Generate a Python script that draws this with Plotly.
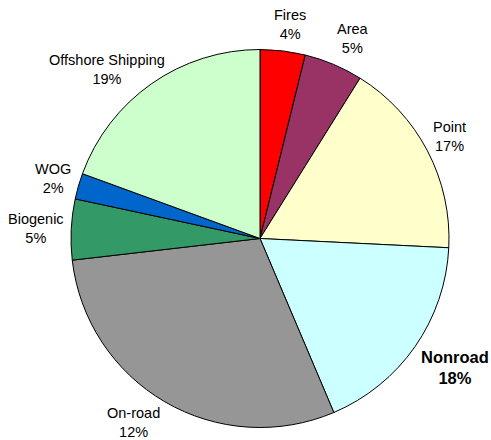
import plotly.graph_objects as go

categories = ["Fires", "Area", "Point", "Nonroad", "On-road", "Biogenic", "WOG", "Offshore Shipping"]
values = [3.85, 5.03, 16.9, 17.83, 29.56, 5.19, 2.21, 19.43]
pct_labels = ["4%", "5%", "17%", "18%", "12%", "5%", "2%", "19%"]
colors = ["#FF0000", "#993366", "#FFFFCC", "#CCFFFF", "#969696", "#339966", "#0066CC", "#CCFFCC"]

W, H = 491, 440
cx, cy, r = 260, 238.5, 189

# label centre positions (pixels) – layout only
label_pos = [(290, 24), (353, 38.5), (449, 136), (455, 367), (133, 422), (36, 228), (53, 179), (107, 69)]
bold = [False, False, False, True, False, False, False, False]

fig = go.Figure(go.Pie(
    labels=categories,
    values=values,
    sort=False,
    direction="clockwise",
    rotation=0,
    marker=dict(colors=colors, line=dict(color="black", width=1)),
    textinfo="none",
    hoverinfo="label+percent",
    domain=dict(x=[(cx - r) / W, (cx + r) / W], y=[(H - cy - r) / H, (H - cy + r) / H]),
    showlegend=False,
))

annotations = []
for cat, pct, (px, py), b in zip(categories, pct_labels, label_pos, bold):
    if b:
        txt = f"<b>{cat}<br>{pct}</b>"
        size = 16.5
    else:
        txt = f"{cat}<br>{pct}"
        size = 14.5
    annotations.append(dict(
        x=px / W, y=1 - py / H, xref="paper", yref="paper",
        text=txt, showarrow=False, xanchor="center", yanchor="middle",
        font=dict(family="Liberation Sans, Arial, sans-serif", size=size, color="black"),
        align="center",
    ))

fig.update_layout(
    width=W, height=H,
    margin=dict(l=0, r=0, t=0, b=0),
    paper_bgcolor="white",
    plot_bgcolor="white",
    annotations=annotations,
)

fig.write_html(
    "out.html",
    config={"displayModeBar": False},
    post_script="document.body.style.margin='0';document.body.style.padding='0';",
)
